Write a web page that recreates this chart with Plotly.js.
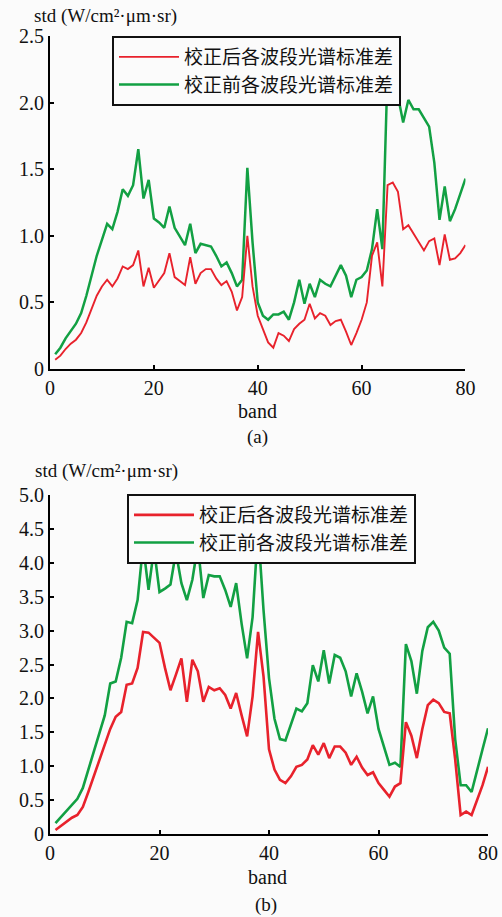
<!DOCTYPE html>
<html>
<head>
<meta charset="utf-8">
<script src="https://cdn.plot.ly/plotly-3.0.1.min.js"></script>
<style>
html,body{margin:0;padding:0;background:#fbfbfb;}
#chart{width:502px;height:917px;}
</style>
</head>
<body>
<div id="chart"></div>
<script>
const bands = [1,2,3,4,5,6,7,8,9,10,11,12,13,14,15,16,17,18,19,20,21,22,23,24,25,26,27,28,29,30,31,32,33,34,35,36,37,38,39,40,41,42,43,44,45,46,47,48,49,50,51,52,53,54,55,56,57,58,59,60,61,62,63,64,65,66,67,68,69,70,71,72,73,74,75,76,77,78,79,80];

// (a) before correction (green) and after correction (red)
const stdBeforeA = [0.11,0.16,0.23,0.29,0.34,0.42,0.55,0.70,0.85,0.97,1.09,1.05,1.18,1.35,1.30,1.38,1.65,1.28,1.42,1.13,1.10,1.06,1.22,1.06,1.00,0.93,1.09,0.87,0.94,0.93,0.92,0.85,0.77,0.80,0.72,0.62,0.67,1.51,0.95,0.50,0.40,0.37,0.41,0.41,0.43,0.37,0.50,0.67,0.49,0.64,0.54,0.67,0.64,0.62,0.70,0.78,0.70,0.54,0.67,0.69,0.74,0.90,1.20,0.90,2.25,2.35,2.05,1.85,2.02,1.95,1.95,1.88,1.82,1.55,1.12,1.37,1.11,1.20,1.32,1.43];
const stdAfterA = [0.07,0.10,0.15,0.19,0.22,0.27,0.35,0.45,0.55,0.62,0.67,0.62,0.68,0.77,0.75,0.78,0.89,0.62,0.76,0.61,0.67,0.72,0.87,0.69,0.66,0.63,0.84,0.64,0.72,0.75,0.75,0.68,0.63,0.66,0.58,0.44,0.54,1.00,0.62,0.40,0.30,0.20,0.16,0.27,0.25,0.21,0.30,0.34,0.37,0.49,0.38,0.42,0.40,0.33,0.36,0.37,0.28,0.18,0.27,0.37,0.50,0.85,0.95,0.62,1.38,1.40,1.33,1.05,1.08,1.02,0.95,0.89,0.96,0.98,0.78,1.01,0.82,0.83,0.87,0.93];

// (b)
const stdBeforeB = [0.16,0.25,0.33,0.43,0.52,0.68,0.95,1.20,1.50,1.75,2.22,2.25,2.60,3.13,3.11,3.45,4.26,3.60,4.21,3.57,3.62,3.68,4.16,3.70,3.45,3.75,4.26,3.48,3.82,3.80,3.80,3.60,3.35,3.70,3.10,2.59,3.20,4.50,3.30,2.30,1.70,1.40,1.38,1.60,1.85,1.81,1.93,2.49,2.25,2.71,2.22,2.64,2.60,2.40,2.03,2.37,2.10,1.78,2.03,1.55,1.30,1.02,1.05,0.99,2.80,2.55,2.07,2.70,3.05,3.13,3.00,2.75,2.66,1.40,0.72,0.72,0.62,0.95,1.25,1.56];
const stdAfterB = [0.06,0.12,0.18,0.24,0.28,0.40,0.62,0.85,1.10,1.32,1.55,1.73,1.80,2.20,2.22,2.45,2.98,2.97,2.90,2.82,2.45,2.12,2.35,2.59,1.95,2.57,2.40,1.95,2.17,2.12,2.15,2.05,1.85,2.08,1.75,1.44,2.03,2.98,2.32,1.25,0.95,0.80,0.75,0.85,0.99,1.02,1.10,1.31,1.17,1.34,1.12,1.29,1.29,1.20,1.02,1.14,0.98,0.87,0.91,0.75,0.65,0.55,0.70,0.75,1.65,1.45,1.12,1.55,1.90,1.98,1.93,1.80,1.78,1.10,0.28,0.33,0.28,0.50,0.72,0.99];

const seriesNames = ['校正后各波段光谱标准差','校正前各波段光谱标准差'];
const xTickVals = [0,20,40,60,80];
const xTickText = ['0','20','40','60','80'];
const yTickValsA = [0,0.5,1,1.5,2,2.5];
const yTickTextA = ['0','0.5','1.0','1.5','2.0','2.5'];
const yTickValsB = [0,0.5,1,1.5,2,2.5,3,3.5,4,4.5,5];
const yTickTextB = ['0','0.5','1.0','1.5','2.0','2.5','3.0','3.5','4.0','4.5','5.0'];

const RED = '#e8222c';
const GREEN = '#12a043';
const serif = '"Liberation Serif", "Times New Roman", serif';
const cjk = '"Noto Sans CJK SC", sans-serif';

const traces = [
  {x: bands, y: stdBeforeA, type:'scatter', mode:'lines', name: seriesNames[1], line:{color:GREEN, width:2.5}, xaxis:'x', yaxis:'y', legend:'legend', legendrank:2},
  {x: bands, y: stdAfterA, type:'scatter', mode:'lines', name: seriesNames[0], line:{color:RED, width:1.9}, xaxis:'x', yaxis:'y', legend:'legend', legendrank:1},
  {x: bands, y: stdBeforeB, type:'scatter', mode:'lines', name: seriesNames[1], line:{color:GREEN, width:2.6}, xaxis:'x2', yaxis:'y2', legend:'legend2', legendrank:2},
  {x: bands, y: stdAfterB, type:'scatter', mode:'lines', name: seriesNames[0], line:{color:RED, width:2.6}, xaxis:'x2', yaxis:'y2', legend:'legend2', legendrank:1}
];

function xa(domain, anchor){
  return {domain: domain, anchor: anchor, range:[0,80], tickmode:'array', tickvals: xTickVals, ticktext: xTickText, ticks:'inside', ticklen:4, tickwidth:1.5, tickcolor:'#000',
    showline:true, linecolor:'#000', linewidth:2, showgrid:false, zeroline:false,
    tickfont:{family:serif, size:20, color:'#111'}};
}
function ya(domain, anchor, range, tv, tt){
  return {domain: domain, anchor: anchor, range: range, tickmode:'array', tickvals: tv, ticktext: tt, ticks:'inside', ticklen:4, tickwidth:1.5, tickcolor:'#000',
    showline:true, linecolor:'#000', linewidth:2, showgrid:false, zeroline:false,
    tickfont:{family:serif, size:20, color:'#111'}};
}

const L = 50, W = 442, B = 834, H = 798;
function px(x){ return (x - L)/W; }
function py(y){ return (B - y)/H; }
function ann(text, x, y, size){
  return {text: text, x: px(x), y: py(y), xref:'paper', yref:'paper', showarrow:false, xanchor:'center', yanchor:'middle',
    font:{family:serif, size:size, color:'#111'}};
}

const layout = {
  width: 502, height: 917,
  font: {family: serif, size: 20, color:'#111'},
  margin:{l:L, r:10, t:36, b:83},
  paper_bgcolor:'#fbfbfb', plot_bgcolor:'#fbfbfb',
  showlegend:true,
  xaxis: xa([0, 0.940], 'y'),
  yaxis: ya([0.5827, 1], 'x', [0,2.5], yTickValsA, yTickTextA),
  xaxis2: xa([0, 0.991], 'y2'),
  yaxis2: ya([0, 0.4248], 'x2', [0,5], yTickValsB, yTickTextB),
  legend: {x: px(112), y: py(36), xanchor:'left', yanchor:'top', bgcolor:'#fbfbfb', bordercolor:'#111', borderwidth:2,
    font:{family:cjk, size:19, color:'#111'}, itemwidth:60, tracegroupgap:0},
  legend2: {x: px(127), y: py(494), xanchor:'left', yanchor:'top', bgcolor:'#fbfbfb', bordercolor:'#111', borderwidth:2,
    font:{family:cjk, size:19, color:'#111'}, itemwidth:60, tracegroupgap:0},
  annotations: [
    ann('std (W/cm²·μm·sr)', 105, 16, 19),
    ann('band', 257, 411, 20),
    ann('(a)', 257, 437, 19),
    ann('std (W/cm²·μm·sr)', 106, 471, 19),
    ann('band', 267, 877, 20),
    ann('(b)', 266, 905, 19)
  ]
};

Plotly.newPlot('chart', traces, layout, {displayModeBar:false});
</script>
</body>
</html>
